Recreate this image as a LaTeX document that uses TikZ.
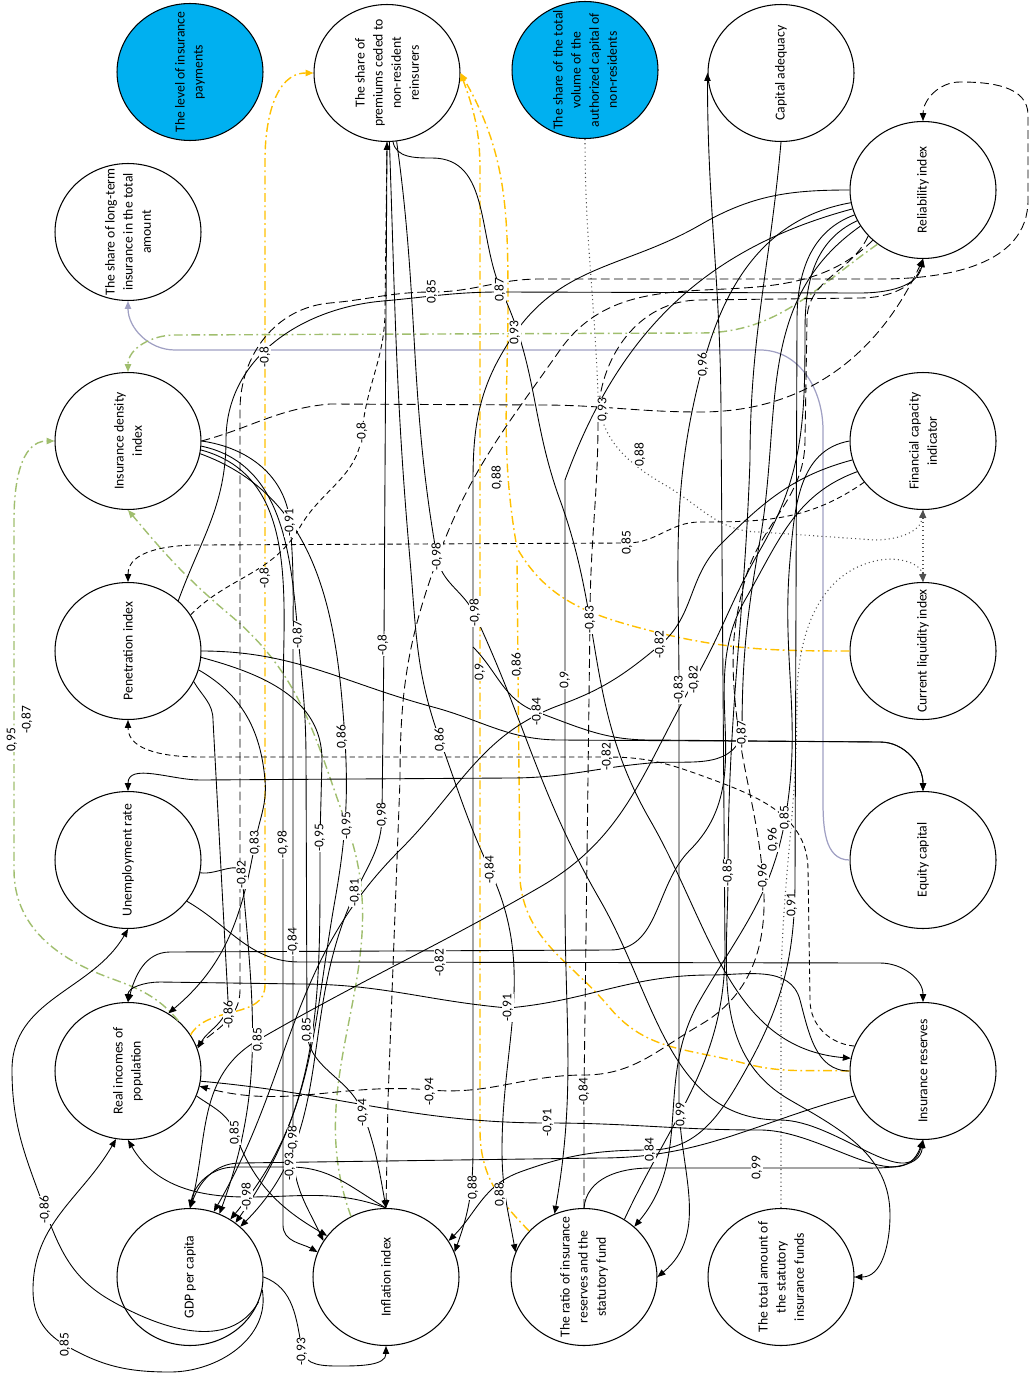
\documentclass[tikz,border=0pt]{standalone}
\usepackage{fontspec}
\newfontfamily\carl{Carlito}
\usetikzlibrary{shapes.geometric,arrows.meta}
\newcommand\nodefnt{\carl\fontsize{7.8}{10.3}\selectfont}
\newcommand\lblfnt{\carl\fontsize{7.6}{9}\selectfont}
\definecolor{skyb}{RGB}{0,176,240}
\definecolor{yel}{RGB}{255,192,0}
\definecolor{grn}{RGB}{160,190,110}
\definecolor{lav}{RGB}{160,160,195}
\definecolor{dotc}{RGB}{80,80,80}
\tikzset{
  circ/.style={draw, ellipse, line width=0.6pt, minimum width=2.92cm, minimum height=2.74cm, inner sep=0pt},
  bcirc/.style={circ, fill=skyb},
  txt/.style={rotate=90, align=center, font=\nodefnt, inner sep=0pt},
  lbl/.style={fill=white, inner sep=0.3pt, rotate=90, font=\lblfnt},
  e/.style={line width=0.5pt, -{Triangle[length=4.5pt,width=3.6pt]}},
  ld/.style={e, dash pattern=on 5pt off 2.5pt},
  sd/.style={e, dash pattern=on 3pt off 2pt},
  yl/.style={e, draw=yel, line width=0.8pt, dash pattern=on 5pt off 2pt on 1pt off 2pt},
  gn/.style={e, draw=grn, line width=0.8pt, dash pattern=on 5pt off 2pt on 1pt off 2pt},
  gy/.style={e, draw=lav, line width=0.7pt},
  dt/.style={e, draw=dotc, line width=0.6pt, dash pattern=on 0.6pt off 1.8pt},
}
\begin{document}
\begin{tikzpicture}[x=0.02cm,y=-0.02cm]
\useasboundingbox (0,0) rectangle (1030,1375);
% nodes
\node[bcirc] (pay) at (190,72) {};
\node[circ] (prem) at (387,73) {};
\node[bcirc] (auth) at (585,70) {};
\node[circ] (capad) at (781,73) {};
\node[circ] (longt) at (128,232) {};
\node[circ] (rel) at (923,190) {};
\node[circ] (dens) at (128,441) {};
\node[circ] (fin) at (923,441) {};
\node[circ] (pen) at (128,651) {};
\node[circ] (liq) at (923,651) {};
\node[circ] (unemp) at (128,860) {};
\node[circ] (eq) at (923,860) {};
\node[circ] (inc) at (128,1071) {};
\node[circ] (res) at (923,1071) {};
\node[circ] (gdp) at (190,1277) {};
\node[circ] (infl) at (386,1277) {};
\node[circ] (ratio) at (584,1277) {};
\node[circ] (total) at (781,1277) {};

% gray
\draw[gy] (eq.west) to[out=180,in=-90] (823,800) -- (823,430) to[out=90,in=0] (760,350) -- (175,350) to[out=180,in=-90] (longt.south);
% yellow
\draw[yl] (inc.30) to[out=60,in=-90] (265,985) -- (265,160) to[out=90,in=180] (prem.west);
\draw[yl] (ratio.140) to[out=135,in=-90] (480,1130) -- (480,170) to[out=90,in=-70] (prem.east);
\draw[yl] (liq.west) to[out=180,in=-15] (640,628) to[out=165,in=-60] (517,548) to[out=100,in=-90] (508,300) to[out=90,in=-60] (prem.east);
\draw[yl,-] (res.west) to[out=178,in=-15] (743,1063) to[out=165,in=-50] (610,1008) to[out=130,in=-85] (520,880) -- (517,560);
% green
\draw[gn] (inc.45) to[out=130,in=-20] (110,978) to[out=160,in=-90] (14,870) -- (14,520) to[out=90,in=180] (dens.west);
\draw[gn] (rel.230) to[out=215,in=0] (700,333) -- (175,335) to[out=180,in=90] (dens.north);
\draw[gn] (infl.120) to[out=110,in=-70] (347,826) to[out=110,in=-40] (230,615) to[out=140,in=-50] (dens.south);
% dotted
\draw[dt] (auth.south) to[out=-90,in=92] (598,395) to[out=-88,in=150] (665,485) to[out=-30,in=180] (760,532) -- (875,540) to[out=0,in=-95] (fin.south);
\draw[dt] (total.north) -- (781,1000) to[out=90,in=-90] (797,700) to[out=90,in=190] (880,560) to[out=10,in=95] (liq.north);
\draw[dt,{Triangle[length=4.5pt,width=3.6pt]}-{Triangle[length=4.5pt,width=3.6pt]}] (fin.south) -- (liq.north);
% reliability loop and lines to reliability
\draw[ld] (inc.20) to[out=40,in=-90] (240,990) -- (240,410) to[out=90,in=185] (330,303) to[out=5,in=180] (432,292) to[out=0,in=180] (540,279) -- (880,279) to[out=0,in=-90] (1028,200) -- (1028,115) to[out=90,in=0] (960,82) to[out=180,in=90] (rel.north);
\draw[e] (pen.45) to[out=70,in=-90] (226,440) to[out=90,in=185] (383,301) to[out=5,in=180] (500,292) -- (860,293) to[out=0,in=-100] (rel.south);
\draw[ld] (dens.east) to[out=15,in=185] (330,404) -- (540,405) to[out=0,in=180] (700,412) to[out=0,in=-115] (rel.south);
\draw[ld] (ratio.north) -- (584,1092) -- (590,620) to[out=90,in=-90] (598,420) to[out=90,in=180] (700,300) -- (860,298) to[out=0,in=-105] (rel.south);
% premiums fan
\draw[e] (prem.-85) to[out=-80,in=180] (432,158) to[out=0,in=115] (502,292) to[out=-65,in=110] (560,500) to[out=-70,in=120] (650,820) to[out=-60,in=175] (res.170);
\draw[e] (prem.south) -- (384,640) -- (382,815) to[out=-90,in=65] (355,893) to[out=-115,in=45] (gdp.45);
\draw[e] (prem.-88) to[out=-88,in=95] (410,560) to[out=-85,in=110] (440,740) to[out=-70,in=115] (490,870) to[out=-65,in=90] (502,1150) to[out=-90,in=100] (ratio.160);
\draw[e] (prem.-82) to[out=-82,in=100] (437,557) to[out=-80,in=115] (475,615) to[out=-65,in=120] (600,900) to[out=-60,in=180] (780,1120) to[out=0,in=-105] (res.south);
\draw[sd] (pen.30) to[out=45,in=-120] (300,527) to[out=60,in=-95] (362,433) to[out=85,in=-90] (385,310) -- (prem.south);
% from reliability
\draw[e] (rel.west) to[out=180,in=30] (700,225) to[out=210,in=55] (515,333) to[out=235,in=90] (473,480) -- (473,1150) to[out=-90,in=70] (infl.20);
\draw[e] (rel.190) to[out=190,in=75] (703,365) to[out=-105,in=90] (679,690) -- (679,1100) to[out=-90,in=40] (ratio.east);
\draw[e] (rel.195) to[out=195,in=70] (565,480) -- (565,900) to[out=-90,in=80] (ratio.115);
\draw[e] (rel.200) to[out=200,in=90] (797,320) -- (795,880) to[out=-90,in=60] (740,1080) to[out=-120,in=0] (650,1150) to[out=180,in=20] (520,1172) to[out=200,in=45] (infl.30);
\draw[e] (rel.205) to[out=205,in=90] (805,330) to[out=-90,in=60] (760,550) to[out=-120,in=60] (693,683) to[out=-120,in=30] (540,887) to[out=210,in=30] (258,1040) to[out=210,in=75] (gdp.north);
\draw[e] (rel.210) to[out=215,in=80] (760,540) to[out=-100,in=90] (742,735) to[out=-110,in=5] (650,763) to[out=185,in=0] (510,778) -- (200,780) to[out=180,in=90] (unemp.north);
\draw[ld] (rel.225) to[out=225,in=55] (560,350) to[out=235,in=70] (437,560) to[out=-110,in=90] (400,780) -- (388,1100) -- (infl.north);
\draw[ld] (rel.220) to[out=245,in=90] (807,320) -- (805,440) to[out=-90,in=75] (745,580) to[out=-105,in=95] (735,700) to[out=-85,in=95] (763,878) to[out=-85,in=30] (700,1025) to[out=210,in=0] (584,1075) to[out=180,in=-5] (430,1090) to[out=175,in=-15] (inc.-12);
% capital adequacy
\draw[e] (ratio.55) to[out=65,in=-90] (725,950) -- (721,420) to[out=90,in=-90] (capad.west);
\draw[e] (capad.south) to[out=-95,in=90] (750,460) to[out=-92,in=90] (728,873) to[out=-90,in=150] (790,1100) to[out=-30,in=90] (890,1215) to[out=-90,in=0] (total.east);
% financial capacity
\draw[sd] (fin.215) to[out=215,in=0] (700,522) to[out=180,in=0] (627,543) -- (200,545) to[out=180,in=90] (pen.north);
\draw[e] (fin.west) to[out=190,in=85] (790,560) to[out=-95,in=80] (785,820) to[out=-100,in=60] (700,1000) to[out=-120,in=50] (ratio.45);
\draw[e] (fin.195) to[out=195,in=45] (720,545) to[out=-135,in=40] (660,645) to[out=-140,in=20] (560,705) to[out=200,in=45] (400,850) to[out=225,in=60] (gdp.70);
\draw[e] (fin.205) to[out=200,in=60] (745,600) to[out=-120,in=45] (690,850) to[out=-135,in=0] (610,950) -- (170,952) to[out=180,in=75] (inc.north);
% penetration, equity
\coordinate (cusp) at (473,647);
\draw[e] (cusp) to[out=-45,in=160] (537,712) to[out=-20,in=180] (650,740) -- (880,742) to[out=0,in=90] (eq.north);
\draw[e] (pen.east) to[out=0,in=165] (433,707) to[out=-15,in=180] (560,740) -- (880,742) to[out=0,in=90] (eq.north);
\draw[sd] (res.160) to[out=175,in=-90] (810,1000) -- (808,870) to[out=90,in=-20] (700,775) to[out=160,in=0] (607,757) -- (200,757) to[out=180,in=-90] (pen.south);
% density fan
\draw[e] (dens.east) to[out=-8,in=95] (290,523) to[out=-85,in=90] (293,650) -- (293,1150) to[out=-90,in=115] (infl.150);
\draw[e] (dens.-4) to[out=-12,in=95] (298,635) to[out=-85,in=90] (306,760) -- (307,1030) to[out=-90,in=110] (363,1113) to[out=-70,in=100] (infl.north);
\draw[e] (dens.-7) to[out=-15,in=90] (283,700) -- (283,1225) to[out=-90,in=150] (infl.160);
\draw[e] (dens.-10) to[out=-20,in=95] (342,700) to[out=-85,in=80] (335,900) to[out=-100,in=50] (gdp.55);
% penetration & unemployment
\draw[e] (pen.-15) to[out=-30,in=95] (265,780) to[out=-85,in=80] (255,843) to[out=-100,in=40] (inc.55);
\draw[e] (pen.-25) to[out=-60,in=90] (213,720) -- (228,1000) to[out=-90,in=60] (inc.18);
\draw[e] (pen.-5) to[out=-15,in=90] (322,760) -- (320,838) to[out=-90,in=55] (gdp.50);
\draw[e] (unemp.-10) to[out=-10,in=95] (242,875) to[out=-85,in=70] (gdp.65);
\draw[e] (unemp.-35) to[out=-30,in=180] (300,962) -- (880,963) to[out=0,in=90] (res.north);
% incomes & reserves
\draw[e] (res.west) to[out=180,in=-75] (800,1000) to[out=105,in=0] (710,975) to[out=180,in=5] (508,1008) to[out=175,in=0] (300,984) -- (160,982) to[out=180,in=90] (inc.north);
\draw[e] (inc.-8) to[out=-5,in=180] (548,1123) to[out=0,in=180] (760,1130) to[out=0,in=-110] (res.south);
\draw[e] (ratio.north) to[out=85,in=180] (650,1168) -- (850,1168) to[out=0,in=-95] (res.south);
\draw[e] (res.200) to[out=195,in=0] (600,1158) -- (240,1163) to[out=180,in=70] (gdp.north);
\draw[e] (inc.-20) to[out=-35,in=110] (235,1133) to[out=-70,in=150] (infl.145);
% inflation & gdp
\draw[e] (infl.north) to[out=160,in=0] (247,1197) to[out=180,in=-60] (inc.south);
\draw[e] (infl.north) to[out=150,in=0] (290,1167) -- (235,1167) to[out=180,in=80] (gdp.north);
\draw[e] (gdp.-20) to[out=-120,in=-30] (110,1300) to[out=150,in=-70] (45,1210) to[out=110,in=-90] (12,1070) to[out=90,in=-120] (unemp.south);
\draw[e] (gdp.-10) to[out=-80,in=0] (170,1372) to[out=180,in=-30] (65,1345) to[out=150,in=-90] (33,1290) to[out=90,in=-120] (inc.-100);
\draw[e] (gdp.east) to[out=-20,in=100] (302,1350) to[out=-80,in=180] (340,1366) to[out=0,in=-90] (infl.south);

% node texts
\node[txt] at (pay) {The level of insurance\\payments};
\node[txt] at (prem) {The share of\\premiums ceded to\\non-resident\\reinsurers};
\node[txt] at (auth) {The share of the total\\volume of the\\authorized capital of\\non-residents};
\node[txt] at (capad) {Capital adequacy};
\node[txt] at (longt) {The share of long-term\\insurance in the total\\amount};
\node[txt] at (rel) {Reliability index};
\node[txt] at (dens) {Insurance density\\index};
\node[txt] at (fin) {Financial capacity\\indicator};
\node[txt] at (pen) {Penetration index};
\node[txt] at (liq) {Current liquidity index};
\node[txt] at (unemp) {Unemployment rate};
\node[txt] at (eq) {Equity capital};
\node[txt] at (inc) {Real incomes of\\population};
\node[txt] at (res) {Insurance reserves};
\node[txt] at (gdp) {GDP per capita};
\node[txt] at (infl) {Inflation index};
\node[txt] at (ratio) {The ratio of insurance\\reserves and the\\statutory fund};
\node[txt] at (total) {The total amount of\\the statutory\\insurance funds};

% labels
\foreach \p/\t in {
 {265,357}/{-0,8}, {265,578}/{-0,8}, {362,433}/{-0,8}, {383,645}/{-0,8},
 {432,292}/{0,85}, {500,290}/{0,87}, {515,333}/{0,93}, {703,365}/{0,96},
 {603,410}/{0,93}, {640,455}/{0,88}, {497,478}/{0,88}, {290,523}/{-0,91},
 {437,557}/{-0,98}, {475,613}/{-0,98}, {298,635}/{-0,87}, {480,672}/{0,9},
 {517,665}/{0,86}, {565,680}/{0,9}, {590,620}/{-0,83}, {660,645}/{-0,82},
 {627,543}/{0,85}, {537,712}/{-0,84}, {679,690}/{-0,83}, {694,680}/{-0,82},
 {742,735}/{-0,87}, {607,757}/{-0,82}, {440,740}/{0,86}, {342,737}/{0,86},
 {27,720}/{-0,87}, {12,740}/{0,95}, {255,843}/{0,83}, {242,875}/{-0,82},
 {283,845}/{-0,98}, {320,838}/{-0,95}, {347,826}/{-0,95}, {382,815}/{0,98},
 {355,893}/{-0,81}, {490,870}/{-0,84}, {293,942}/{-0,84}, {440,963}/{-0,82},
 {508,1008}/{-0,91}, {229,1015}/{-0,86}, {258,1040}/{0,85}, {307,1030}/{0,85},
 {430,1092}/{-0,94}, {363,1113}/{-0,94}, {235,1133}/{0,85}, {293,1140}/{-0,98},
 {290,1167}/{-0,93}, {247,1197}/{-0,98}, {473,1188}/{0,88}, {500,1195}/{0,88},
 {548,1123}/{-0,91}, {584,1092}/{-0,84}, {681,1115}/{0,99}, {650,1150}/{0,84},
 {757,1168}/{0,99}, {45,1210}/{-0,86}, {65,1345}/{0,85}, {302,1352}/{-0,93},
 {728,873}/{-0,85}, {763,878}/{-0,96}, {773,840}/{0,96}, {785,818}/{0,85},
 {792,905}/{0,91}}
 {\node[lbl] at (\p) {\t};}
\end{tikzpicture}
\end{document}
